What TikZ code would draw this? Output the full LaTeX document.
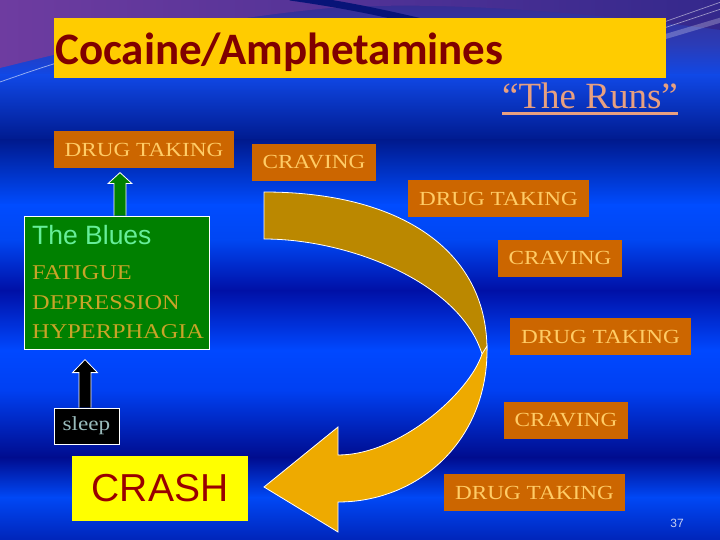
\documentclass[tikz,border=0pt]{standalone}
\usepackage{fontspec}
\setmainfont{Liberation Serif}
\newfontfamily\wideserif[FakeStretch=1.16]{Liberation Serif}
\newfontfamily\sansA{Liberation Sans}
\newfontfamily\calibri{Carlito}
\usetikzlibrary{calc}
\definecolor{titleyellow}{HTML}{FFCC00}
\definecolor{titlered}{HTML}{800000}
\definecolor{runscol}{HTML}{E8A080}
\definecolor{orangebox}{HTML}{CC6600}
\definecolor{orangetext}{HTML}{FFCC66}
\definecolor{bluesbox}{HTML}{008000}
\definecolor{bluestitle}{HTML}{66EE99}
\definecolor{goldtext}{HTML}{C8A428}
\definecolor{sleeptext}{HTML}{99BBBB}
\definecolor{crashyellow}{HTML}{FFFF00}
\definecolor{crashred}{HTML}{990000}
\definecolor{darkgold}{HTML}{BB8800}
\definecolor{lightgold}{HTML}{EEAA00}
\definecolor{numcol}{HTML}{C8D0F0}
\definecolor{b0}{HTML}{3A2C8E}
\definecolor{b1}{HTML}{2A3CB8}
\definecolor{b2}{HTML}{1048E6}
\definecolor{b3}{HTML}{001A8E}
\definecolor{b4}{HTML}{004CFF}
\definecolor{b5}{HTML}{0046F2}
\definecolor{b6}{HTML}{0010A6}
\definecolor{b7}{HTML}{0048FF}
\definecolor{b8}{HTML}{0040F2}
\definecolor{b9}{HTML}{000C8E}
\definecolor{b10}{HTML}{0048F6}
\definecolor{b11}{HTML}{0024B8}
\tikzset{
  obox/.style={fill=orangebox, text=orangetext, inner sep=0pt,
    minimum height=37bp, font=\wideserif\fontsize{20bp}{24bp}\selectfont},
  bluesline/.style={anchor=base west, inner sep=0pt, text=goldtext,
    font=\wideserif\fontsize{21bp}{25bp}\selectfont},
  blockarrow/.style={draw=white, line width=0.8bp, line join=miter},
  ribbon/.style={draw=white, line width=0.8bp},
}
\begin{document}
\begin{tikzpicture}[x=1bp, y=-1bp]
\useasboundingbox (0,0) rectangle (720,540);
% background bands
\shade[top color=b0, bottom color=b1] (0,-1) rectangle (720,45.5);
\shade[top color=b1, bottom color=b2] (0,45) rectangle (720,75.5);
\shade[top color=b2, bottom color=b3] (0,75) rectangle (720,140.5);
\shade[top color=b3, bottom color=b4] (0,140) rectangle (720,205.5);
\shade[top color=b4, bottom color=b5] (0,205) rectangle (720,240.5);
\shade[top color=b5, bottom color=b6] (0,240) rectangle (720,290.5);
\shade[top color=b6, bottom color=b7] (0,290) rectangle (720,350.5);
\shade[top color=b7, bottom color=b8] (0,350) rectangle (720,390.5);
\shade[top color=b8, bottom color=b9] (0,390) rectangle (720,457.5);
\shade[top color=b9, bottom color=b10] (0,457) rectangle (720,497.5);
\shade[top color=b10, bottom color=b11] (0,497) rectangle (720,541);
% top swoosh decoration
\shade[left color={rgb,255:red,110;green,60;blue,160}, right color={rgb,255:red,52;green,40;blue,140}]
  (0,-1) -- (0,68) .. controls (80,48) and (200,20) .. (330,8)
  .. controls (450,0) and (600,14) .. (721,30) -- (721,-1) -- cycle;
\draw[line width=7bp, color={rgb,255:red,8;green,20;blue,120}]
  (290,-3) .. controls (340,4) and (380,12) .. (430,24);
\draw[white, opacity=0.55, line width=0.8bp] (0,82) .. controls (20,75) and (40,68) .. (60,62);
\draw[white, opacity=0.5, line width=0.7bp] (664,22) -- (721,2);
\draw[white, opacity=0.5, line width=0.7bp] (664,28) -- (721,9);
\draw[white, opacity=0.25, line width=5bp] (664,37) -- (721,20);

% title
\node[fill=titleyellow, minimum width=612bp, minimum height=60bp, inner sep=0pt] (title) at (360,48) {};
\node[anchor=base west, inner sep=0pt, text=titlered,
  font=\calibri\bfseries\fontsize{45bp}{50bp}\selectfont] (titletext) at (55,65) {Cocaine/Amphetamines};
\node[anchor=base west, inner sep=0pt, text=runscol,
  font=\fontsize{37bp}{41bp}\selectfont] (runs) at (502,109) {“The Runs”};
\draw[runscol, line width=3bp] ($(runs.base west)+(0,5)$) -- ($(runs.base east)+(0,5)$);

% orange boxes
\node[obox, minimum width=180bp] (dt1) at (144,150) {DRUG TAKING};
\node[obox, minimum width=124bp] (cr1) at (314,162.5) {CRAVING};
\node[obox, minimum width=181bp] (dt2) at (498.5,198.5) {DRUG TAKING};
\node[obox, minimum width=124bp] (cr2) at (560,258.5) {CRAVING};
\node[obox, minimum width=181bp] (dt3) at (600.5,336.5) {DRUG TAKING};
\node[obox, minimum width=124bp] (cr3) at (566,420.5) {CRAVING};
\node[obox, minimum width=181bp] (dt4) at (534.5,492.5) {DRUG TAKING};

% blues box
\node[fill=bluesbox, draw=white, line width=0.8bp, minimum width=185bp, minimum height=133bp, inner sep=0pt] (blues) at (116.5,282.5) {};
\node[anchor=base west, inner sep=0pt, text=bluestitle, font=\sansA\fontsize{26.5bp}{30bp}\selectfont] (bluest) at (32,245) {The Blues};
\node[bluesline] (fat) at (32,280) {FATIGUE};
\node[bluesline] (dep) at (32,309) {DEPRESSION};
\node[bluesline] (hyp) at (32,338) {HYPERPHAGIA};

% green arrow blues -> drug taking
\begin{scope}[shift={($(blues.north)+(3.5,0)$)}]
\fill[bluesbox] (-6,0) -- (-6,-32) -- (-12,-32) -- (0,-43) -- (12,-32) -- (6,-32) -- (6,0) -- cycle;
\draw[blockarrow] (-6,0) -- (-6,-32) -- (-12,-32) -- (0,-43) -- (12,-32) -- (6,-32) -- (6,0);
\end{scope}

% sleep
\node[fill=black, draw=white, line width=0.8bp, minimum width=65bp, minimum height=36bp, inner sep=0pt,
  text=sleeptext, font=\wideserif\fontsize{20bp}{24bp}\selectfont] (sleep) at (86.5,426) {sleep};
\begin{scope}[shift={($(sleep.north)+(-1.5,0)$)}]
\fill[black] (-6,0) -- (-6,-35) -- (-12.5,-35) -- (0,-48) -- (12.5,-35) -- (6,-35) -- (6,0) -- cycle;
\draw[blockarrow] (-6,0) -- (-6,-35) -- (-12.5,-35) -- (0,-48) -- (12.5,-35) -- (6,-35) -- (6,0);
\end{scope}

% crash
\node[fill=crashyellow, minimum width=176bp, minimum height=65bp, inner sep=0pt,
  text=crashred, font=\sansA\fontsize{39bp}{44bp}\selectfont] (crash) at (160,488.5) {\raisebox{-3bp}{CRASH}};

% curved ribbon arrow
\filldraw[ribbon, fill=darkgold] (264,192) .. controls (400,192) and (487,250) .. (487,350)
  -- (482,354) .. controls (460,283) and (350,239) .. (264,239) -- cycle;
\filldraw[ribbon, fill=lightgold] (487,346) .. controls (489,440) and (419,502) .. (338,502)
  -- (338,532) -- (264,487) -- (338,427) -- (338,455)
  .. controls (400,455) and (470,392) .. (482,354) -- cycle;

% page number
\node[text=numcol, font=\sansA\fontsize{12bp}{14bp}\selectfont, inner sep=0pt] (num) at (677,523) {37};
\end{tikzpicture}
\end{document}
